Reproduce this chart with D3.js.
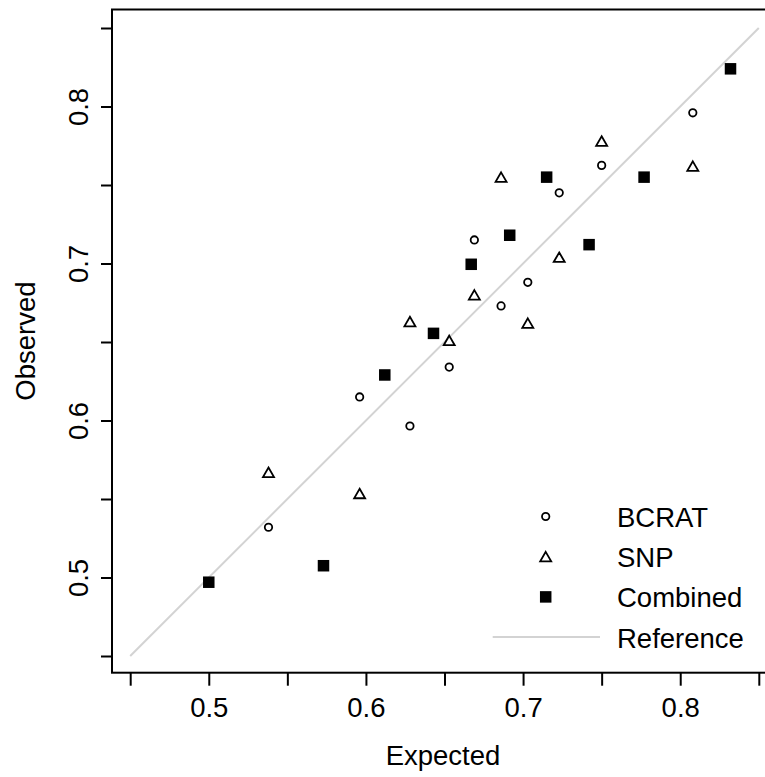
<!DOCTYPE html>
<html>
<head>
<meta charset="utf-8">
<script src="https://cdn.jsdelivr.net/npm/d3@7"></script>
<style>
  html, body { margin: 0; padding: 0; background: #fff; }
  text { font-family: "Liberation Sans", Arial, sans-serif; fill: #000; }
</style>
</head>
<body>
<div id="vis"></div>
<script>
const ESPERADO = [0.538, 0.596, 0.628, 0.653, 0.669, 0.686, 0.703, 0.723, 0.750, 0.808];
const BCRAT_OBS = [0.532, 0.615, 0.5965, 0.634, 0.715, 0.673, 0.688, 0.745, 0.7625, 0.796];
const SNP_OBS = [0.566, 0.5525, 0.662, 0.650, 0.679, 0.754, 0.661, 0.703, 0.777, 0.761];
const COMB_ESP = [0.500, 0.573, 0.612, 0.643, 0.667, 0.6915, 0.715, 0.742, 0.777, 0.832];
const COMB_OBS = [0.497, 0.5075, 0.629, 0.6555, 0.6995, 0.718, 0.755, 0.712, 0.755, 0.824];
const REF_LINE = [0.45, 0.85];

const TICKS = [0.45, 0.5, 0.55, 0.6, 0.65, 0.7, 0.75, 0.8, 0.85];
const TICK_LABELS = [0.5, 0.6, 0.7, 0.8];
const LEYENDA = ["BCRAT", "SNP", "Combined", "Reference"];

const WIDTH = 765;
const HEIGHT = 777;
const FONT = 27.5;
const BOX = { left: 112, right: 774, top: 9.5, bottom: 672.7 };

const SVG = d3.select("#vis").append("svg")
    .attr("width", WIDTH)
    .attr("height", HEIGHT);

const escalaX = d3.scaleLinear().domain([0.45, 0.85]).range([130.2, 758.8]);
const escalaY = d3.scaleLinear().domain([0.45, 0.85]).range([656, 28]);

// Linea de referencia
SVG.append("line")
    .attr("x1", escalaX(REF_LINE[0])).attr("y1", escalaY(REF_LINE[0]))
    .attr("x2", escalaX(REF_LINE[1])).attr("y2", escalaY(REF_LINE[1]))
    .attr("stroke", "#d3d3d3")
    .attr("stroke-width", 2);

// Caja del grafico
SVG.append("rect")
    .attr("x", BOX.left).attr("y", BOX.top)
    .attr("width", BOX.right - BOX.left)
    .attr("height", BOX.bottom - BOX.top)
    .attr("fill", "none")
    .attr("stroke", "#000")
    .attr("stroke-width", 2);

// Ejes
const ejeX = d3.axisBottom(escalaX)
    .tickValues(TICKS)
    .tickSize(13)
    .tickFormat(d => TICK_LABELS.some(t => Math.abs(t - d) < 1e-9) ? d3.format(".1f")(d) : "");
const gX = SVG.append("g")
    .attr("transform", `translate(0, ${BOX.bottom})`)
    .call(ejeX);
gX.select(".domain").remove();
gX.selectAll(".tick line").attr("stroke-width", 2);
gX.selectAll(".tick text")
    .attr("font-size", FONT)
    .attr("font-family", "Liberation Sans, Arial, sans-serif")
    .attr("dy", null)
    .attr("y", 44);

const ejeY = d3.axisLeft(escalaY)
    .tickValues(TICKS)
    .tickSize(11)
    .tickFormat(d => TICK_LABELS.some(t => Math.abs(t - d) < 1e-9) ? d3.format(".1f")(d) : "");
const gY = SVG.append("g")
    .attr("transform", `translate(${BOX.left}, 0)`)
    .call(ejeY);
gY.select(".domain").remove();
gY.selectAll(".tick line").attr("stroke-width", 2);
gY.selectAll(".tick text")
    .attr("font-size", FONT)
    .attr("font-family", "Liberation Sans, Arial, sans-serif")
    .attr("x", null).attr("dy", null)
    .attr("text-anchor", "middle")
    .attr("transform", "translate(-24, 0) rotate(-90)");

// Titulos de ejes
SVG.append("text")
    .attr("x", (BOX.left + BOX.right) / 2)
    .attr("y", 765)
    .attr("text-anchor", "middle")
    .attr("font-size", FONT)
    .text("Expected");

SVG.append("text")
    .attr("transform", `translate(35, ${(BOX.top + BOX.bottom) / 2}) rotate(-90)`)
    .attr("text-anchor", "middle")
    .attr("font-size", FONT)
    .text("Observed");

// Simbolos
const TRI = 11; // lado del triangulo
const triangulo = (cx, cy) => {
    const r = TRI / Math.sqrt(3);
    return `M${cx},${cy - r}L${cx + TRI / 2},${cy + r / 2}L${cx - TRI / 2},${cy + r / 2}Z`;
};
const LADO = 11.5;

SVG.append("g").selectAll("circle")
    .data(ESPERADO.map((d, i) => [d, BCRAT_OBS[i]]))
    .join("circle")
    .attr("cx", d => escalaX(d[0]))
    .attr("cy", d => escalaY(d[1]))
    .attr("r", 3.7)
    .attr("fill", "none")
    .attr("stroke", "#000")
    .attr("stroke-width", 1.8);

SVG.append("g").selectAll("path")
    .data(ESPERADO.map((d, i) => [d, SNP_OBS[i]]))
    .join("path")
    .attr("d", d => triangulo(escalaX(d[0]), escalaY(d[1])))
    .attr("fill", "none")
    .attr("stroke", "#000")
    .attr("stroke-width", 1.8)
    .attr("stroke-linejoin", "miter");

SVG.append("g").selectAll("rect")
    .data(COMB_ESP.map((d, i) => [d, COMB_OBS[i]]))
    .join("rect")
    .attr("x", d => escalaX(d[0]) - LADO / 2)
    .attr("y", d => escalaY(d[1]) - LADO / 2)
    .attr("width", LADO)
    .attr("height", LADO)
    .attr("fill", "#000");

// Leyenda
const LEG_X = 545.7;
const LEG_Y0 = 516.5;
const LEG_DY = 40.2;
const leyenda = SVG.append("g");
leyenda.append("circle")
    .attr("cx", LEG_X).attr("cy", LEG_Y0).attr("r", 3.7)
    .attr("fill", "none").attr("stroke", "#000").attr("stroke-width", 1.8);
leyenda.append("path")
    .attr("d", triangulo(LEG_X, LEG_Y0 + LEG_DY + 1.5))
    .attr("fill", "none").attr("stroke", "#000").attr("stroke-width", 1.8);
leyenda.append("rect")
    .attr("x", LEG_X - LADO / 2).attr("y", LEG_Y0 + 2 * LEG_DY - LADO / 2)
    .attr("width", LADO).attr("height", LADO).attr("fill", "#000");
leyenda.append("line")
    .attr("x1", 492.7).attr("x2", 600)
    .attr("y1", LEG_Y0 + 3 * LEG_DY).attr("y2", LEG_Y0 + 3 * LEG_DY)
    .attr("stroke", "#d3d3d3").attr("stroke-width", 2);
leyenda.selectAll("text")
    .data(LEYENDA)
    .join("text")
    .attr("x", 617)
    .attr("y", (d, i) => LEG_Y0 + i * LEG_DY + 10.5)
    .attr("font-size", FONT)
    .text(d => d);
</script>
</body>
</html>
